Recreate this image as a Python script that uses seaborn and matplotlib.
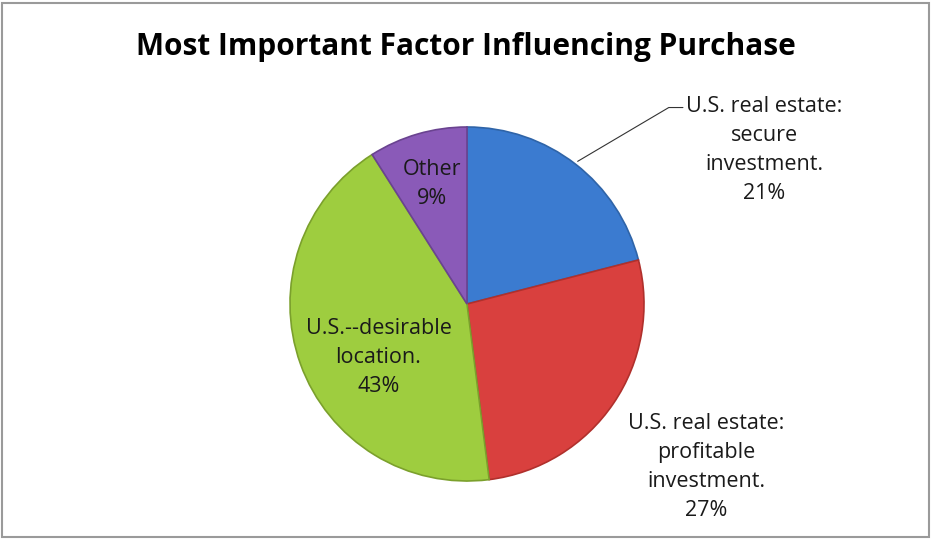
import matplotlib
matplotlib.use("Agg")
import matplotlib.pyplot as plt
import matplotlib.patches as mpatches
import numpy as np
import seaborn as sns

# data, clockwise from 12 o'clock
categories = ["U.S. real estate:\nsecure\ninvestment.",
              "U.S. real estate:\nprofitable\ninvestment.",
              "U.S.--desirable\nlocation.",
              "Other"]
shares = [21, 27, 43, 9]
colors = ["#3b7bd0", "#d9403e", "#9ecd3f", "#8a5ab8"]
edge_colors = ["#2f64a8", "#b0302c", "#7ba02c", "#6a4390"]

sns.set_theme(style="white")
plt.rcParams['font.family'] = ['Open Sans', 'DejaVu Sans']

W, H = 931, 539
fig = plt.figure(figsize=(W / 100, H / 100), dpi=100)

# pie centre / radius in pixels
cx, cy, r = 467, 304, 177
ax = fig.add_axes([(cx - r) / W, (H - cy - r) / H, 2 * r / W, 2 * r / H])

wedges, _ = ax.pie(shares, colors=colors, startangle=90, counterclock=False,
                   radius=1, wedgeprops=dict(linewidth=1.2))
for w, ec in zip(wedges, edge_colors):
    w.set_edgecolor(ec)
ax.set_xlim(-1, 1)
ax.set_ylim(-1, 1)
ax.set_aspect("equal")
ax.axis("off")

# labels, positions relative to the pie centre (in radii)
label_pos = [(1.68, 0.87), (1.35, -0.92), (-0.50, -0.305), (-0.20, 0.68)]
for cat, val, (lx, ly) in zip(categories, shares, label_pos):
    ax.text(lx, ly, f"{cat}\n{val}%", ha="center", va="center",
            fontsize=15.5, color="#1a1a1a", linespacing=1.5,
            multialignment="center", clip_on=False)

# leader line for the blue slice
theta = np.deg2rad(90 - shares[0] / 100 * 360 / 2)
p0 = (np.cos(theta) * 1.02, np.sin(theta) * 1.02)
ax.plot([p0[0], 1.14, 1.22], [p0[1], 1.11, 1.11], color="#333333",
        lw=0.8, clip_on=False)

fig.text(0.5, 1 - 47 / H, "Most Important Factor Influencing Purchase",
         ha="center", va="center", fontsize=21.5, fontweight="bold",
         color="black")

# outer frame
fig.patches.append(mpatches.Rectangle((2 / W, 2 / H), 1 - 4 / W, 1 - 5 / H,
                                      transform=fig.transFigure, fill=False,
                                      edgecolor="#9a9a9a", linewidth=1.5))

fig.savefig("out.png", dpi=100)
